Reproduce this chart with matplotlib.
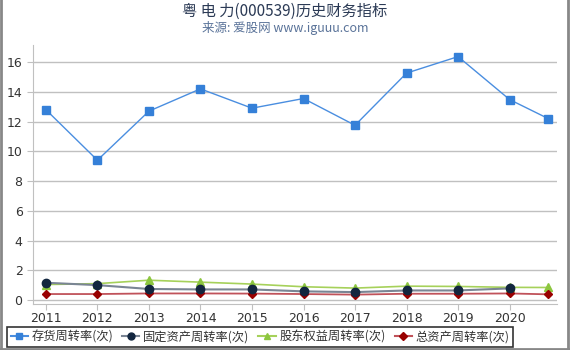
import matplotlib
matplotlib.use("Agg")
import matplotlib.pyplot as plt
from matplotlib.lines import Line2D

plt.rcParams['font.family'] = ['DejaVu Sans', 'Noto Sans CJK SC']

years = [2011, 2012, 2013, 2014, 2015, 2016, 2017, 2018, 2019, 2020, 2020.75]
xticks = [2011, 2012, 2013, 2014, 2015, 2016, 2017, 2018, 2019, 2020]
inventory = [12.8, 9.4, 12.7, 14.2, 12.9, 13.55, 11.75, 15.26, 16.37, 13.48, 12.2]
fixed_assets = [1.16, 1.0, 0.74, 0.71, 0.71, 0.58, 0.53, 0.64, 0.64, 0.78]
equity = [1.04, 1.1, 1.33, 1.2, 1.07, 0.89, 0.8, 0.93, 0.91, 0.85, 0.84]
total_assets = [0.4, 0.4, 0.44, 0.44, 0.43, 0.4, 0.36, 0.42, 0.42, 0.44, 0.38]
names = ['存货周转率(次)', '固定资产周转率(次)', '股东权益周转率(次)', '总资产周转率(次)']

fig = plt.figure(figsize=(5.7, 3.5), dpi=100)
ax = fig.add_axes([33/570, 1-304/350, (557-33)/570, (304-45)/350])

ax.plot(years, inventory, color='#4a8ee0', lw=1, marker='s', ms=5.5,
        mfc='#3580d8', mec='#3580d8', zorder=5)
ax.plot(years[:len(fixed_assets)], fixed_assets, color='#7a8594', lw=1.5, marker='o', ms=6,
        mfc='#12263f', mec='#12263f', zorder=4)
ax.plot(years, equity, color='#a6d15a', lw=1.2, marker='^', ms=6,
        mfc='#8cc63f', mec='#8cc63f', zorder=3)
ax.plot(years, total_assets, color='#c0525a', lw=1.3, marker='D', ms=4,
        mfc='#990000', mec='#990000', zorder=3)

ax.set_xlim(2010.75, 2020.92)
ax.set_ylim(-0.27, 17.15)
ax.set_xticks(xticks)
ax.set_xticklabels([str(y) for y in xticks])
ax.set_yticks(range(0, 17, 2))
ax.grid(axis='y', color='#c0c0c0', lw=1)
ax.set_axisbelow(True)
for s in ['top', 'right']:
    ax.spines[s].set_visible(False)
for s in ['left', 'bottom']:
    ax.spines[s].set_color('#c0c0c0')
ax.tick_params(axis='both', colors='#c0c0c0', labelcolor='#333333', labelsize=9, length=4)
ax.tick_params(axis='x', pad=1.5)

fig.text(0.5, 1-11/350, '粤 电 力(000539)历史财务指标', ha='center', va='center',
         fontsize=11, color='#2b3a55', family=['Noto Sans CJK SC', 'DejaVu Sans'])
fig.text(0.5, 1-28/350, '来源: 爱股网 www.iguuu.com', ha='center', va='center',
         fontsize=9, color='#5a7399', family=['Noto Sans CJK SC', 'DejaVu Sans'])

handles = [
    Line2D([], [], color='#4a8ee0', marker='s', ms=5, mfc='#3580d8', mec='#3580d8'),
    Line2D([], [], color='#7a8594', marker='o', ms=5, mfc='#12263f', mec='#12263f'),
    Line2D([], [], color='#a6d15a', marker='^', ms=5, mfc='#8cc63f', mec='#8cc63f'),
    Line2D([], [], color='#c0525a', marker='D', ms=4, mfc='#990000', mec='#990000'),
]
leg = fig.legend(handles, names, loc='center', bbox_to_anchor=(260/570, 1-337/350),
                 ncol=4, frameon=True, fancybox=False, edgecolor='black',
                 handlelength=1.4, handletextpad=0.3, columnspacing=0.75,
                 borderpad=0.3, prop={'family': ['Noto Sans CJK SC', 'DejaVu Sans'], 'size': 8.8})
leg.get_frame().set_linewidth(1.2)
for t in leg.get_texts():
    t.set_color('#333333')

# gray figure border
fig.add_artist(Line2D([0.002, 0.002], [0, 1], color='#888888', lw=2, transform=fig.transFigure))
fig.add_artist(Line2D([0.997, 0.997], [0, 1], color='#888888', lw=2, transform=fig.transFigure))
fig.add_artist(Line2D([0, 1], [0.003, 0.003], color='#888888', lw=2, transform=fig.transFigure))

fig.savefig('out.png', dpi=100)
